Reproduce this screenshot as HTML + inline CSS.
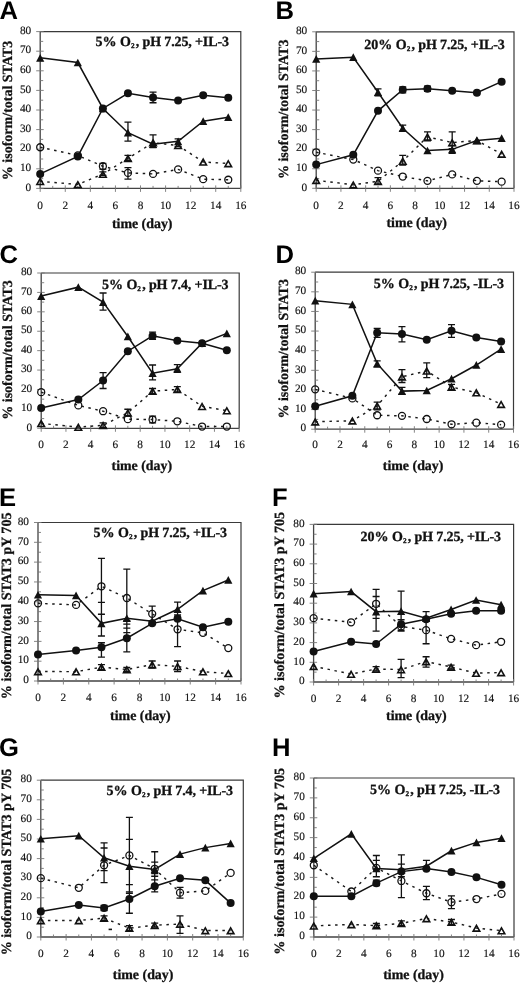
<!DOCTYPE html>
<html><head><meta charset="utf-8"><style>
html,body{margin:0;padding:0;background:#fff;}
body{width:520px;height:983px;overflow:hidden;font-family:"Liberation Serif",serif;}
svg{display:block;will-change:transform;} text{text-rendering:geometricPrecision;}
</style></head><body>
<svg width="520" height="983" viewBox="0 0 520 983">
<rect width="520" height="983" fill="#fff"/>
<g>
<path d="M40.2 31.6H240.8V188.4" fill="none" stroke="#3a3a3a" stroke-width="1.2"/>
<path d="M40.2 31.6V188.4H240.8" fill="none" stroke="#444" stroke-width="1.3"/>
<path d="M36.2 188.4H43.7M36.2 168.8H43.7M36.2 149.2H43.7M36.2 129.6H43.7M36.2 110H43.7M36.2 90.4H43.7M36.2 70.8H43.7M36.2 51.2H43.7M36.2 31.6H43.7M40.2 178.6H43.2M40.2 159H43.2M40.2 139.4H43.2M40.2 119.8H43.2M40.2 100.2H43.2M40.2 80.6H43.2M40.2 61H43.2M40.2 41.4H43.2M40.2 185.4V191.9M65.28 185.4V191.9M90.35 185.4V191.9M115.43 185.4V191.9M140.5 185.4V191.9M165.58 185.4V191.9M190.65 185.4V191.9M215.73 185.4V191.9M240.8 185.4V191.9M52.74 185.9V188.4M77.81 185.9V188.4M102.89 185.9V188.4M127.96 185.9V188.4M153.04 185.9V188.4M178.11 185.9V188.4M203.19 185.9V188.4M228.26 185.9V188.4" stroke="#777" stroke-width="0.9" fill="none"/>
<g font-family="Liberation Serif" font-size="11.3" fill="#111" stroke="#111" stroke-width="0.15"><text x="31.2" y="190.6" text-anchor="end">0</text><text x="31.2" y="171" text-anchor="end">10</text><text x="31.2" y="151.4" text-anchor="end">20</text><text x="31.2" y="131.8" text-anchor="end">30</text><text x="31.2" y="112.2" text-anchor="end">40</text><text x="31.2" y="92.6" text-anchor="end">50</text><text x="31.2" y="73" text-anchor="end">60</text><text x="31.2" y="53.4" text-anchor="end">70</text><text x="31.2" y="33.8" text-anchor="end">80</text><text x="40.2" y="209.3" text-anchor="middle">0</text><text x="65.28" y="209.3" text-anchor="middle">2</text><text x="90.35" y="209.3" text-anchor="middle">4</text><text x="115.43" y="209.3" text-anchor="middle">6</text><text x="140.5" y="209.3" text-anchor="middle">8</text><text x="165.58" y="209.3" text-anchor="middle">10</text><text x="190.65" y="209.3" text-anchor="middle">12</text><text x="215.73" y="209.3" text-anchor="middle">14</text><text x="240.8" y="209.3" text-anchor="middle">16</text></g>
<path d="M127.96 141.15V122.14M124.46 141.15H131.46M124.46 122.14H131.46M153.04 147.62V134.88M149.54 147.62H156.54M149.54 134.88H156.54M153.04 102.74V92.15M149.54 102.74H156.54M149.54 92.15H156.54M127.96 179.18V167.61M124.46 179.18H131.46M124.46 167.61H131.46M102.89 169.18V163.3M99.39 169.18H106.39M99.39 163.3H106.39M102.89 175.45V171.92M99.39 175.45H106.39M99.39 171.92H106.39M127.96 160.75V155.46M124.46 160.75H131.46M124.46 155.46H131.46M178.11 146.64V138.8M174.61 146.64H181.61M174.61 138.8H181.61" stroke="#111" stroke-width="1.3" fill="none"/>
<polyline points="40.2,181.33 77.81,184.47 102.89,174.08 127.96,158.4 153.04,142.72 178.11,145.46 203.19,161.93 228.26,163.5" fill="none" stroke="#1a1a1a" stroke-width="1.45" stroke-dasharray="2.5 4.6"/>
<polyline points="40.2,147.23 77.81,155.46 102.89,166.24 127.96,172.9 153.04,173.88 178.11,169.38 203.19,179.18 228.26,179.76" fill="none" stroke="#1a1a1a" stroke-width="1.45" stroke-dasharray="2.5 4.6"/>
<polyline points="40.2,57.85 77.81,62.56 102.89,108.42 127.96,132.72 153.04,144.29 178.11,141.35 203.19,121.16 228.26,117.24" fill="none" stroke="#111" stroke-width="1.5"/>
<polyline points="40.2,173.88 77.81,156.44 102.89,108.42 127.96,93.33 153.04,97.44 178.11,100.58 203.19,95.29 228.26,97.84" fill="none" stroke="#111" stroke-width="1.5"/>
<path d="M40.2 178.63L43.5 184.43H36.9Z" fill="none" stroke="#111" stroke-width="1.6"/><path d="M77.81 181.77L81.11 187.57H74.51Z" fill="none" stroke="#111" stroke-width="1.6"/><path d="M102.89 171.38L106.19 177.18H99.59Z" fill="none" stroke="#111" stroke-width="1.6"/><path d="M127.96 155.7L131.26 161.5H124.66Z" fill="none" stroke="#111" stroke-width="1.6"/><path d="M153.04 140.02L156.34 145.82H149.74Z" fill="none" stroke="#111" stroke-width="1.6"/><path d="M178.11 142.76L181.41 148.56H174.81Z" fill="none" stroke="#111" stroke-width="1.6"/><path d="M203.19 159.23L206.49 165.03H199.89Z" fill="none" stroke="#111" stroke-width="1.6"/><path d="M228.26 160.8L231.56 166.6H224.96Z" fill="none" stroke="#111" stroke-width="1.6"/><circle cx="40.2" cy="147.23" r="3.5" fill="none" stroke="#111" stroke-width="1.3"/><circle cx="77.81" cy="155.46" r="3.5" fill="none" stroke="#111" stroke-width="1.3"/><circle cx="102.89" cy="166.24" r="3.5" fill="none" stroke="#111" stroke-width="1.3"/><circle cx="127.96" cy="172.9" r="3.5" fill="none" stroke="#111" stroke-width="1.3"/><circle cx="153.04" cy="173.88" r="3.5" fill="none" stroke="#111" stroke-width="1.3"/><circle cx="178.11" cy="169.38" r="3.5" fill="none" stroke="#111" stroke-width="1.3"/><circle cx="203.19" cy="179.18" r="3.5" fill="none" stroke="#111" stroke-width="1.3"/><circle cx="228.26" cy="179.76" r="3.5" fill="none" stroke="#111" stroke-width="1.3"/><path d="M40.2 53.95L44.3 61.65H36.1Z" fill="#111"/><path d="M77.81 58.66L81.91 66.36H73.71Z" fill="#111"/><path d="M102.89 104.52L106.99 112.22H98.79Z" fill="#111"/><path d="M127.96 128.82L132.06 136.52H123.86Z" fill="#111"/><path d="M153.04 140.39L157.14 148.09H148.94Z" fill="#111"/><path d="M178.11 137.45L182.21 145.15H174.01Z" fill="#111"/><path d="M203.19 117.26L207.29 124.96H199.09Z" fill="#111"/><path d="M228.26 113.34L232.36 121.04H224.16Z" fill="#111"/><circle cx="40.2" cy="173.88" r="4.0" fill="#111"/><circle cx="77.81" cy="156.44" r="4.0" fill="#111"/><circle cx="102.89" cy="108.42" r="4.0" fill="#111"/><circle cx="127.96" cy="93.33" r="4.0" fill="#111"/><circle cx="153.04" cy="97.44" r="4.0" fill="#111"/><circle cx="178.11" cy="100.58" r="4.0" fill="#111"/><circle cx="203.19" cy="95.29" r="4.0" fill="#111"/><circle cx="228.26" cy="97.84" r="4.0" fill="#111"/>
<text x="-0.4" y="18.8" font-family="Liberation Sans" font-weight="bold" font-size="25.6" fill="#000">A</text>
<text x="95.5" y="45.6" font-family="Liberation Serif" font-weight="bold" font-size="14" fill="#111" stroke="#111" stroke-width="0.3">5% O<tspan font-size="7.2" dy="2.0">2</tspan><tspan dy="-2.0" dx="1.3" letter-spacing="-0.13">, pH 7.25, +IL-3</tspan></text>
<text transform="translate(11.7 110.4) rotate(-90)" text-anchor="middle" font-family="Liberation Serif" font-weight="bold" font-size="14.0" fill="#111" stroke="#111" stroke-width="0.25">% isoform/total STAT3</text>
<text x="142.2" y="228.3" text-anchor="middle" font-family="Liberation Serif" font-weight="bold" font-size="13.9" fill="#111" stroke="#111" stroke-width="0.3">time (day)</text>
<path d="M316.2 31.8H514V188.3" fill="none" stroke="#3a3a3a" stroke-width="1.2"/>
<path d="M316.2 31.8V188.3H514" fill="none" stroke="#444" stroke-width="1.3"/>
<path d="M312.2 188.3H319.7M312.2 168.74H319.7M312.2 149.18H319.7M312.2 129.61H319.7M312.2 110.05H319.7M312.2 90.49H319.7M312.2 70.93H319.7M312.2 51.36H319.7M312.2 31.8H319.7M316.2 178.52H319.2M316.2 158.96H319.2M316.2 139.39H319.2M316.2 119.83H319.2M316.2 100.27H319.2M316.2 80.71H319.2M316.2 61.14H319.2M316.2 41.58H319.2M316.2 185.3V191.8M340.93 185.3V191.8M365.65 185.3V191.8M390.38 185.3V191.8M415.1 185.3V191.8M439.82 185.3V191.8M464.55 185.3V191.8M489.27 185.3V191.8M514 185.3V191.8M328.56 185.8V188.3M353.29 185.8V188.3M378.01 185.8V188.3M402.74 185.8V188.3M427.46 185.8V188.3M452.19 185.8V188.3M476.91 185.8V188.3M501.64 185.8V188.3" stroke="#777" stroke-width="0.9" fill="none"/>
<g font-family="Liberation Serif" font-size="11.3" fill="#111" stroke="#111" stroke-width="0.15"><text x="307.2" y="190.5" text-anchor="end">0</text><text x="307.2" y="170.94" text-anchor="end">10</text><text x="307.2" y="151.38" text-anchor="end">20</text><text x="307.2" y="131.81" text-anchor="end">30</text><text x="307.2" y="112.25" text-anchor="end">40</text><text x="307.2" y="92.69" text-anchor="end">50</text><text x="307.2" y="73.13" text-anchor="end">60</text><text x="307.2" y="53.56" text-anchor="end">70</text><text x="307.2" y="34" text-anchor="end">80</text><text x="316.2" y="209.4" text-anchor="middle">0</text><text x="340.93" y="209.4" text-anchor="middle">2</text><text x="365.65" y="209.4" text-anchor="middle">4</text><text x="390.38" y="209.4" text-anchor="middle">6</text><text x="415.1" y="209.4" text-anchor="middle">8</text><text x="439.82" y="209.4" text-anchor="middle">10</text><text x="464.55" y="209.4" text-anchor="middle">12</text><text x="489.27" y="209.4" text-anchor="middle">14</text><text x="514" y="209.4" text-anchor="middle">16</text></g>
<path d="M378.01 95.76V88.91M374.51 95.76H381.51M374.51 88.91H381.51M402.74 130.97V125.1M399.24 130.97H406.24M399.24 125.1H406.24M452.19 153.47V145.64M448.69 153.47H455.69M448.69 145.64H455.69M402.74 92.82V86.95M399.24 92.82H406.24M399.24 86.95H406.24M427.46 91.26V86.17M423.96 91.26H430.96M423.96 86.17H430.96M378.01 184.18V177.53M374.51 184.18H381.51M374.51 177.53H381.51M402.74 165.2V155.42M399.24 165.2H406.24M399.24 155.42H406.24M427.46 140.75V131.95M423.96 140.75H430.96M423.96 131.95H430.96M452.19 148.58V131.95M448.69 148.58H455.69M448.69 131.95H455.69" stroke="#111" stroke-width="1.3" fill="none"/>
<polyline points="316.2,180.27 353.29,184.77 378.01,181.24 402.74,161.1 427.46,136.84 452.19,142.51 476.91,140.55 501.64,154.05" fill="none" stroke="#1a1a1a" stroke-width="1.45" stroke-dasharray="2.5 4.6"/>
<polyline points="316.2,152.29 353.29,159.53 378.01,170.68 402.74,176.55 427.46,180.85 452.19,174.4 476.91,180.85 501.64,181.64" fill="none" stroke="#1a1a1a" stroke-width="1.45" stroke-dasharray="2.5 4.6"/>
<polyline points="316.2,58.98 353.29,57.22 378.01,92.24 402.74,128.23 427.46,150.53 452.19,149.36 476.91,140.55 501.64,138.21" fill="none" stroke="#111" stroke-width="1.5"/>
<polyline points="316.2,164.62 353.29,154.84 378.01,110.82 402.74,89.69 427.46,88.71 452.19,90.67 476.91,92.63 501.64,81.67" fill="none" stroke="#111" stroke-width="1.5"/>
<path d="M316.2 177.57L319.5 183.37H312.9Z" fill="none" stroke="#111" stroke-width="1.6"/><path d="M353.29 182.07L356.59 187.87H349.99Z" fill="none" stroke="#111" stroke-width="1.6"/><path d="M378.01 178.54L381.31 184.34H374.71Z" fill="none" stroke="#111" stroke-width="1.6"/><path d="M402.74 158.4L406.04 164.2H399.44Z" fill="none" stroke="#111" stroke-width="1.6"/><path d="M427.46 134.14L430.76 139.94H424.16Z" fill="none" stroke="#111" stroke-width="1.6"/><path d="M452.19 139.81L455.49 145.61H448.89Z" fill="none" stroke="#111" stroke-width="1.6"/><path d="M476.91 137.85L480.21 143.65H473.61Z" fill="none" stroke="#111" stroke-width="1.6"/><path d="M501.64 151.35L504.94 157.15H498.34Z" fill="none" stroke="#111" stroke-width="1.6"/><circle cx="316.2" cy="152.29" r="3.5" fill="none" stroke="#111" stroke-width="1.3"/><circle cx="353.29" cy="159.53" r="3.5" fill="none" stroke="#111" stroke-width="1.3"/><circle cx="378.01" cy="170.68" r="3.5" fill="none" stroke="#111" stroke-width="1.3"/><circle cx="402.74" cy="176.55" r="3.5" fill="none" stroke="#111" stroke-width="1.3"/><circle cx="427.46" cy="180.85" r="3.5" fill="none" stroke="#111" stroke-width="1.3"/><circle cx="452.19" cy="174.4" r="3.5" fill="none" stroke="#111" stroke-width="1.3"/><circle cx="476.91" cy="180.85" r="3.5" fill="none" stroke="#111" stroke-width="1.3"/><circle cx="501.64" cy="181.64" r="3.5" fill="none" stroke="#111" stroke-width="1.3"/><path d="M316.2 55.08L320.3 62.78H312.1Z" fill="#111"/><path d="M353.29 53.32L357.39 61.02H349.19Z" fill="#111"/><path d="M378.01 88.34L382.11 96.04H373.91Z" fill="#111"/><path d="M402.74 124.33L406.84 132.03H398.64Z" fill="#111"/><path d="M427.46 146.63L431.56 154.33H423.36Z" fill="#111"/><path d="M452.19 145.46L456.29 153.16H448.09Z" fill="#111"/><path d="M476.91 136.65L481.01 144.35H472.81Z" fill="#111"/><path d="M501.64 134.31L505.74 142.01H497.54Z" fill="#111"/><circle cx="316.2" cy="164.62" r="4.0" fill="#111"/><circle cx="353.29" cy="154.84" r="4.0" fill="#111"/><circle cx="378.01" cy="110.82" r="4.0" fill="#111"/><circle cx="402.74" cy="89.69" r="4.0" fill="#111"/><circle cx="427.46" cy="88.71" r="4.0" fill="#111"/><circle cx="452.19" cy="90.67" r="4.0" fill="#111"/><circle cx="476.91" cy="92.63" r="4.0" fill="#111"/><circle cx="501.64" cy="81.67" r="4.0" fill="#111"/>
<text x="275.6" y="18.8" font-family="Liberation Sans" font-weight="bold" font-size="25.6" fill="#000">B</text>
<text x="364.3" y="48.5" font-family="Liberation Serif" font-weight="bold" font-size="14" fill="#111" stroke="#111" stroke-width="0.3">20% O<tspan font-size="7.2" dy="2.0">2</tspan><tspan dy="-2.0" dx="1.3" letter-spacing="-0.13">, pH 7.25, +IL-3</tspan></text>
<text transform="translate(287.5 109.3) rotate(-90)" text-anchor="middle" font-family="Liberation Serif" font-weight="bold" font-size="14.0" fill="#111" stroke="#111" stroke-width="0.25">% isoform/total STAT3</text>
<text x="416.7" y="227.3" text-anchor="middle" font-family="Liberation Serif" font-weight="bold" font-size="13.9" fill="#111" stroke="#111" stroke-width="0.3">time (day)</text>
<path d="M41.2 273H239.2V428.3" fill="none" stroke="#3a3a3a" stroke-width="1.2"/>
<path d="M41.2 273V428.3H239.2" fill="none" stroke="#444" stroke-width="1.3"/>
<path d="M37.2 428.3H44.7M37.2 408.89H44.7M37.2 389.48H44.7M37.2 370.06H44.7M37.2 350.65H44.7M37.2 331.24H44.7M37.2 311.82H44.7M37.2 292.41H44.7M37.2 273H44.7M41.2 418.59H44.2M41.2 399.18H44.2M41.2 379.77H44.2M41.2 360.36H44.2M41.2 340.94H44.2M41.2 321.53H44.2M41.2 302.12H44.2M41.2 282.71H44.2M41.2 425.3V431.8M65.95 425.3V431.8M90.7 425.3V431.8M115.45 425.3V431.8M140.2 425.3V431.8M164.95 425.3V431.8M189.7 425.3V431.8M214.45 425.3V431.8M239.2 425.3V431.8M53.58 425.8V428.3M78.33 425.8V428.3M103.08 425.8V428.3M127.83 425.8V428.3M152.57 425.8V428.3M177.32 425.8V428.3M202.07 425.8V428.3M226.82 425.8V428.3" stroke="#777" stroke-width="0.9" fill="none"/>
<g font-family="Liberation Serif" font-size="11.3" fill="#111" stroke="#111" stroke-width="0.15"><text x="32.2" y="430.5" text-anchor="end">0</text><text x="32.2" y="411.09" text-anchor="end">10</text><text x="32.2" y="391.68" text-anchor="end">20</text><text x="32.2" y="372.26" text-anchor="end">30</text><text x="32.2" y="352.85" text-anchor="end">40</text><text x="32.2" y="333.44" text-anchor="end">50</text><text x="32.2" y="314.02" text-anchor="end">60</text><text x="32.2" y="294.61" text-anchor="end">70</text><text x="32.2" y="275.2" text-anchor="end">80</text><text x="41.2" y="448.3" text-anchor="middle">0</text><text x="65.95" y="448.3" text-anchor="middle">2</text><text x="90.7" y="448.3" text-anchor="middle">4</text><text x="115.45" y="448.3" text-anchor="middle">6</text><text x="140.2" y="448.3" text-anchor="middle">8</text><text x="164.95" y="448.3" text-anchor="middle">10</text><text x="189.7" y="448.3" text-anchor="middle">12</text><text x="214.45" y="448.3" text-anchor="middle">14</text><text x="239.2" y="448.3" text-anchor="middle">16</text></g>
<path d="M103.08 310.06V292.98M99.58 310.06H106.58M99.58 292.98H106.58M152.57 379.95V365M149.07 379.95H156.07M149.07 365H156.07M177.32 372.37V364.61M173.82 372.37H180.82M173.82 364.61H180.82M103.08 388.49V372.57M99.58 388.49H106.58M99.58 372.57H106.58M152.57 339.37V332.19M149.07 339.37H156.07M149.07 332.19H156.07M103.08 427.7V422.85M99.58 427.7H106.58M99.58 422.85H106.58M127.83 416.05V409.26M124.33 416.05H131.32M124.33 409.26H131.32M152.57 422.85V416.05M149.07 422.85H156.07M149.07 416.05H156.07M152.57 393.73V388.49M149.07 393.73H156.07M149.07 388.49H156.07M177.32 391.79V386.55M173.82 391.79H180.82M173.82 386.55H180.82" stroke="#111" stroke-width="1.3" fill="none"/>
<polyline points="41.2,423.43 78.33,427.12 103.08,425.37 127.83,412.75 152.57,391.2 177.32,389.46 202.07,406.35 226.82,410.62" fill="none" stroke="#1a1a1a" stroke-width="1.45" stroke-dasharray="2.5 4.6"/>
<polyline points="41.2,392.18 78.33,405.38 103.08,411.2 127.83,419.16 152.57,419.55 177.32,421.29 202.07,426.54 226.82,426.54" fill="none" stroke="#1a1a1a" stroke-width="1.45" stroke-dasharray="2.5 4.6"/>
<polyline points="41.2,296.08 78.33,287.15 103.08,302.1 127.83,336.46 152.57,373.15 177.32,368.69 202.07,343.26 226.82,333.36" fill="none" stroke="#111" stroke-width="1.5"/>
<polyline points="41.2,407.9 78.33,399.55 103.08,380.53 127.83,351.21 152.57,335.88 177.32,340.73 202.07,343.26 226.82,350.24" fill="none" stroke="#111" stroke-width="1.5"/>
<path d="M41.2 420.73L44.5 426.53H37.9Z" fill="none" stroke="#111" stroke-width="1.6"/><path d="M78.33 424.42L81.62 430.22H75.03Z" fill="none" stroke="#111" stroke-width="1.6"/><path d="M103.08 422.67L106.38 428.47H99.78Z" fill="none" stroke="#111" stroke-width="1.6"/><path d="M127.83 410.05L131.12 415.85H124.53Z" fill="none" stroke="#111" stroke-width="1.6"/><path d="M152.57 388.5L155.88 394.3H149.27Z" fill="none" stroke="#111" stroke-width="1.6"/><path d="M177.32 386.76L180.62 392.56H174.02Z" fill="none" stroke="#111" stroke-width="1.6"/><path d="M202.07 403.65L205.38 409.45H198.77Z" fill="none" stroke="#111" stroke-width="1.6"/><path d="M226.82 407.92L230.12 413.72H223.52Z" fill="none" stroke="#111" stroke-width="1.6"/><circle cx="41.2" cy="392.18" r="3.5" fill="none" stroke="#111" stroke-width="1.3"/><circle cx="78.33" cy="405.38" r="3.5" fill="none" stroke="#111" stroke-width="1.3"/><circle cx="103.08" cy="411.2" r="3.5" fill="none" stroke="#111" stroke-width="1.3"/><circle cx="127.83" cy="419.16" r="3.5" fill="none" stroke="#111" stroke-width="1.3"/><circle cx="152.57" cy="419.55" r="3.5" fill="none" stroke="#111" stroke-width="1.3"/><circle cx="177.32" cy="421.29" r="3.5" fill="none" stroke="#111" stroke-width="1.3"/><circle cx="202.07" cy="426.54" r="3.5" fill="none" stroke="#111" stroke-width="1.3"/><circle cx="226.82" cy="426.54" r="3.5" fill="none" stroke="#111" stroke-width="1.3"/><path d="M41.2 292.18L45.3 299.88H37.1Z" fill="#111"/><path d="M78.33 283.25L82.42 290.95H74.23Z" fill="#111"/><path d="M103.08 298.2L107.17 305.9H98.98Z" fill="#111"/><path d="M127.83 332.56L131.93 340.26H123.73Z" fill="#111"/><path d="M152.57 369.25L156.67 376.95H148.47Z" fill="#111"/><path d="M177.32 364.79L181.42 372.49H173.22Z" fill="#111"/><path d="M202.07 339.36L206.17 347.06H197.97Z" fill="#111"/><path d="M226.82 329.46L230.92 337.16H222.72Z" fill="#111"/><circle cx="41.2" cy="407.9" r="4.0" fill="#111"/><circle cx="78.33" cy="399.55" r="4.0" fill="#111"/><circle cx="103.08" cy="380.53" r="4.0" fill="#111"/><circle cx="127.83" cy="351.21" r="4.0" fill="#111"/><circle cx="152.57" cy="335.88" r="4.0" fill="#111"/><circle cx="177.32" cy="340.73" r="4.0" fill="#111"/><circle cx="202.07" cy="343.26" r="4.0" fill="#111"/><circle cx="226.82" cy="350.24" r="4.0" fill="#111"/>
<text x="-0.6" y="263" font-family="Liberation Sans" font-weight="bold" font-size="25.6" fill="#000">C</text>
<text x="101.9" y="289" font-family="Liberation Serif" font-weight="bold" font-size="14" fill="#111" stroke="#111" stroke-width="0.3">5% O<tspan font-size="7.2" dy="2.0">2</tspan><tspan dy="-2.0" dx="1.3" letter-spacing="-0.13">, pH 7.4, +IL-3</tspan></text>
<text transform="translate(12 350) rotate(-90)" text-anchor="middle" font-family="Liberation Serif" font-weight="bold" font-size="14.0" fill="#111" stroke="#111" stroke-width="0.25">% isoform/total STAT3</text>
<text x="141.8" y="470.3" text-anchor="middle" font-family="Liberation Serif" font-weight="bold" font-size="13.9" fill="#111" stroke="#111" stroke-width="0.3">time (day)</text>
<path d="M315.2 272.2H513.5V429.2" fill="none" stroke="#3a3a3a" stroke-width="1.2"/>
<path d="M315.2 272.2V429.2H513.5" fill="none" stroke="#444" stroke-width="1.3"/>
<path d="M311.2 429.2H318.7M311.2 409.57H318.7M311.2 389.95H318.7M311.2 370.32H318.7M311.2 350.7H318.7M311.2 331.07H318.7M311.2 311.45H318.7M311.2 291.82H318.7M311.2 272.2H318.7M315.2 419.39H318.2M315.2 399.76H318.2M315.2 380.14H318.2M315.2 360.51H318.2M315.2 340.89H318.2M315.2 321.26H318.2M315.2 301.64H318.2M315.2 282.01H318.2M315.2 426.2V432.7M339.99 426.2V432.7M364.77 426.2V432.7M389.56 426.2V432.7M414.35 426.2V432.7M439.14 426.2V432.7M463.93 426.2V432.7M488.71 426.2V432.7M513.5 426.2V432.7M327.59 426.7V429.2M352.38 426.7V429.2M377.17 426.7V429.2M401.96 426.7V429.2M426.74 426.7V429.2M451.53 426.7V429.2M476.32 426.7V429.2M501.11 426.7V429.2" stroke="#777" stroke-width="0.9" fill="none"/>
<g font-family="Liberation Serif" font-size="11.3" fill="#111" stroke="#111" stroke-width="0.15"><text x="306.2" y="431.4" text-anchor="end">0</text><text x="306.2" y="411.77" text-anchor="end">10</text><text x="306.2" y="392.15" text-anchor="end">20</text><text x="306.2" y="372.52" text-anchor="end">30</text><text x="306.2" y="352.9" text-anchor="end">40</text><text x="306.2" y="333.27" text-anchor="end">50</text><text x="306.2" y="313.65" text-anchor="end">60</text><text x="306.2" y="294.02" text-anchor="end">70</text><text x="306.2" y="274.4" text-anchor="end">80</text><text x="315.2" y="448.3" text-anchor="middle">0</text><text x="339.99" y="448.3" text-anchor="middle">2</text><text x="364.77" y="448.3" text-anchor="middle">4</text><text x="389.56" y="448.3" text-anchor="middle">6</text><text x="414.35" y="448.3" text-anchor="middle">8</text><text x="439.14" y="448.3" text-anchor="middle">10</text><text x="463.93" y="448.3" text-anchor="middle">12</text><text x="488.71" y="448.3" text-anchor="middle">14</text><text x="513.5" y="448.3" text-anchor="middle">16</text></g>
<path d="M377.17 366.78V360.89M373.67 366.78H380.67M373.67 360.89H380.67M401.96 394.26V387.39M398.46 394.26H405.46M398.46 387.39H405.46M377.17 337.34V328.51M373.67 337.34H380.67M373.67 328.51H380.67M401.96 341.86V326.55M398.46 341.86H405.46M398.46 326.55H405.46M451.53 337.34V324.59M448.03 337.34H455.03M448.03 324.59H455.03M377.17 409.96V402.11M373.67 409.96H380.67M373.67 402.11H380.67M401.96 382.48V369.72M398.46 382.48H405.46M398.46 369.72H405.46M426.74 377.57V362.86M423.24 377.57H430.24M423.24 362.86H430.24M451.53 389.35V384.44M448.03 389.35H455.03M448.03 384.44H455.03" stroke="#111" stroke-width="1.3" fill="none"/>
<polyline points="315.2,421.73 352.38,420.75 377.17,405.83 401.96,376.79 426.74,370.9 451.53,386.99 476.32,392.69 501.11,404.26" fill="none" stroke="#1a1a1a" stroke-width="1.45" stroke-dasharray="2.5 4.6"/>
<polyline points="315.2,389.35 352.38,398.38 377.17,415.25 401.96,415.84 426.74,418.98 451.53,424.28 476.32,422.71 501.11,424.67" fill="none" stroke="#1a1a1a" stroke-width="1.45" stroke-dasharray="2.5 4.6"/>
<polyline points="315.2,300.64 352.38,304.37 377.17,363.64 401.96,391.12 426.74,390.53 451.53,378.75 476.32,365.01 501.11,349.12" fill="none" stroke="#111" stroke-width="1.5"/>
<polyline points="315.2,406.23 352.38,395.83 377.17,332.83 401.96,334.01 426.74,339.7 451.53,330.87 476.32,337.54 501.11,341.46" fill="none" stroke="#111" stroke-width="1.5"/>
<path d="M315.2 419.03L318.5 424.83H311.9Z" fill="none" stroke="#111" stroke-width="1.6"/><path d="M352.38 418.05L355.68 423.85H349.08Z" fill="none" stroke="#111" stroke-width="1.6"/><path d="M377.17 403.13L380.47 408.94H373.87Z" fill="none" stroke="#111" stroke-width="1.6"/><path d="M401.96 374.09L405.26 379.89H398.66Z" fill="none" stroke="#111" stroke-width="1.6"/><path d="M426.74 368.2L430.04 374H423.44Z" fill="none" stroke="#111" stroke-width="1.6"/><path d="M451.53 384.29L454.83 390.09H448.23Z" fill="none" stroke="#111" stroke-width="1.6"/><path d="M476.32 389.99L479.62 395.79H473.02Z" fill="none" stroke="#111" stroke-width="1.6"/><path d="M501.11 401.56L504.41 407.37H497.81Z" fill="none" stroke="#111" stroke-width="1.6"/><circle cx="315.2" cy="389.35" r="3.5" fill="none" stroke="#111" stroke-width="1.3"/><circle cx="352.38" cy="398.38" r="3.5" fill="none" stroke="#111" stroke-width="1.3"/><circle cx="377.17" cy="415.25" r="3.5" fill="none" stroke="#111" stroke-width="1.3"/><circle cx="401.96" cy="415.84" r="3.5" fill="none" stroke="#111" stroke-width="1.3"/><circle cx="426.74" cy="418.98" r="3.5" fill="none" stroke="#111" stroke-width="1.3"/><circle cx="451.53" cy="424.28" r="3.5" fill="none" stroke="#111" stroke-width="1.3"/><circle cx="476.32" cy="422.71" r="3.5" fill="none" stroke="#111" stroke-width="1.3"/><circle cx="501.11" cy="424.67" r="3.5" fill="none" stroke="#111" stroke-width="1.3"/><path d="M315.2 296.75L319.3 304.44H311.1Z" fill="#111"/><path d="M352.38 300.47L356.48 308.17H348.28Z" fill="#111"/><path d="M377.17 359.74L381.27 367.44H373.07Z" fill="#111"/><path d="M401.96 387.22L406.06 394.92H397.86Z" fill="#111"/><path d="M426.74 386.63L430.84 394.33H422.64Z" fill="#111"/><path d="M451.53 374.85L455.63 382.55H447.43Z" fill="#111"/><path d="M476.32 361.12L480.42 368.81H472.22Z" fill="#111"/><path d="M501.11 345.22L505.21 352.92H497.01Z" fill="#111"/><circle cx="315.2" cy="406.23" r="4.0" fill="#111"/><circle cx="352.38" cy="395.83" r="4.0" fill="#111"/><circle cx="377.17" cy="332.83" r="4.0" fill="#111"/><circle cx="401.96" cy="334.01" r="4.0" fill="#111"/><circle cx="426.74" cy="339.7" r="4.0" fill="#111"/><circle cx="451.53" cy="330.87" r="4.0" fill="#111"/><circle cx="476.32" cy="337.54" r="4.0" fill="#111"/><circle cx="501.11" cy="341.46" r="4.0" fill="#111"/>
<text x="275.6" y="262.9" font-family="Liberation Sans" font-weight="bold" font-size="25.6" fill="#000">D</text>
<text x="373.8" y="288.3" font-family="Liberation Serif" font-weight="bold" font-size="14" fill="#111" stroke="#111" stroke-width="0.3">5% O<tspan font-size="7.2" dy="2.0">2</tspan><tspan dy="-2.0" dx="1.3" letter-spacing="-0.13">, pH 7.25, -IL-3</tspan></text>
<text transform="translate(287.7 348.8) rotate(-90)" text-anchor="middle" font-family="Liberation Serif" font-weight="bold" font-size="14.0" fill="#111" stroke="#111" stroke-width="0.25">% isoform/total STAT3</text>
<text x="413.1" y="470.3" text-anchor="middle" font-family="Liberation Serif" font-weight="bold" font-size="13.9" fill="#111" stroke="#111" stroke-width="0.3">time (day)</text>
<path d="M38 522.5H241V681" fill="none" stroke="#3a3a3a" stroke-width="1.2"/>
<path d="M38 522.5V681H241" fill="none" stroke="#444" stroke-width="1.3"/>
<path d="M34 681H41.5M34 661.19H41.5M34 641.38H41.5M34 621.56H41.5M34 601.75H41.5M34 581.94H41.5M34 562.12H41.5M34 542.31H41.5M34 522.5H41.5M38 671.09H41M38 651.28H41M38 631.47H41M38 611.66H41M38 591.84H41M38 572.03H41M38 552.22H41M38 532.41H41M38 678V684.5M63.38 678V684.5M88.75 678V684.5M114.12 678V684.5M139.5 678V684.5M164.88 678V684.5M190.25 678V684.5M215.62 678V684.5M241 678V684.5M50.69 678.5V681M76.06 678.5V681M101.44 678.5V681M126.81 678.5V681M152.19 678.5V681M177.56 678.5V681M202.94 678.5V681M228.31 678.5V681" stroke="#777" stroke-width="0.9" fill="none"/>
<g font-family="Liberation Serif" font-size="11.3" fill="#111" stroke="#111" stroke-width="0.15"><text x="29" y="683.2" text-anchor="end">0</text><text x="29" y="663.39" text-anchor="end">10</text><text x="29" y="643.58" text-anchor="end">20</text><text x="29" y="623.76" text-anchor="end">30</text><text x="29" y="603.95" text-anchor="end">40</text><text x="29" y="584.14" text-anchor="end">50</text><text x="29" y="564.33" text-anchor="end">60</text><text x="29" y="544.51" text-anchor="end">70</text><text x="29" y="524.7" text-anchor="end">80</text><text x="38" y="700.8" text-anchor="middle">0</text><text x="63.38" y="700.8" text-anchor="middle">2</text><text x="88.75" y="700.8" text-anchor="middle">4</text><text x="114.12" y="700.8" text-anchor="middle">6</text><text x="139.5" y="700.8" text-anchor="middle">8</text><text x="164.88" y="700.8" text-anchor="middle">10</text><text x="190.25" y="700.8" text-anchor="middle">12</text><text x="215.62" y="700.8" text-anchor="middle">14</text><text x="241" y="700.8" text-anchor="middle">16</text></g>
<path d="M101.44 614.23V558.36M97.94 614.23H104.94M97.94 558.36H104.94M101.44 636.02V602.34M97.94 636.02H104.94M97.94 602.34H104.94M101.44 657.22V642.76M97.94 657.22H104.94M97.94 642.76H104.94M126.81 628.1V569.05M123.31 628.1H130.31M123.31 569.05H130.31M126.81 632.65V620.76M123.31 632.65H130.31M123.31 620.76H130.31M126.81 651.87V624.13M123.31 651.87H130.31M123.31 624.13H130.31M152.19 621.95V606.1M148.69 621.95H155.69M148.69 606.1H155.69M177.56 646.72V615.02M174.06 646.72H181.06M174.06 615.02H181.06M177.56 617V602.14M174.06 617H181.06M174.06 602.14H181.06M101.44 669.5V664.55M97.94 669.5H104.94M97.94 664.55H104.94M152.19 668.12V660.98M148.69 668.12H155.69M148.69 660.98H155.69M177.56 671.48V660.98M174.06 671.48H181.06M174.06 660.98H181.06M126.81 671.48V667.52M123.31 671.48H130.31M123.31 667.52H130.31" stroke="#111" stroke-width="1.3" fill="none"/>
<polyline points="38,671.48 76.06,671.68 101.44,667.13 126.81,669.5 152.19,664.55 177.56,666.33 202.94,671.68 228.31,673.47" fill="none" stroke="#1a1a1a" stroke-width="1.45" stroke-dasharray="2.5 4.6"/>
<polyline points="38,603.33 76.06,604.91 101.44,586.29 126.81,597.98 152.19,613.83 177.56,629.28 202.94,632.85 228.31,648.11" fill="none" stroke="#1a1a1a" stroke-width="1.45" stroke-dasharray="2.5 4.6"/>
<polyline points="38,594.81 76.06,595.4 101.44,623.34 126.81,618.19 152.19,621.16 177.56,609.27 202.94,590.65 228.31,579.95" fill="none" stroke="#111" stroke-width="1.5"/>
<polyline points="38,654.45 76.06,650.48 101.44,647.31 126.81,638.2 152.19,623.34 177.56,618.78 202.94,627.3 228.31,621.75" fill="none" stroke="#111" stroke-width="1.5"/>
<path d="M38 668.78L41.3 674.58H34.7Z" fill="none" stroke="#111" stroke-width="1.6"/><path d="M76.06 668.98L79.36 674.78H72.76Z" fill="none" stroke="#111" stroke-width="1.6"/><path d="M101.44 664.43L104.74 670.23H98.14Z" fill="none" stroke="#111" stroke-width="1.6"/><path d="M126.81 666.8L130.11 672.6H123.51Z" fill="none" stroke="#111" stroke-width="1.6"/><path d="M152.19 661.85L155.49 667.65H148.89Z" fill="none" stroke="#111" stroke-width="1.6"/><path d="M177.56 663.63L180.86 669.43H174.26Z" fill="none" stroke="#111" stroke-width="1.6"/><path d="M202.94 668.98L206.24 674.78H199.64Z" fill="none" stroke="#111" stroke-width="1.6"/><path d="M228.31 670.77L231.61 676.57H225.01Z" fill="none" stroke="#111" stroke-width="1.6"/><circle cx="38" cy="603.33" r="3.5" fill="none" stroke="#111" stroke-width="1.3"/><circle cx="76.06" cy="604.91" r="3.5" fill="none" stroke="#111" stroke-width="1.3"/><circle cx="101.44" cy="586.29" r="3.5" fill="none" stroke="#111" stroke-width="1.3"/><circle cx="126.81" cy="597.98" r="3.5" fill="none" stroke="#111" stroke-width="1.3"/><circle cx="152.19" cy="613.83" r="3.5" fill="none" stroke="#111" stroke-width="1.3"/><circle cx="177.56" cy="629.28" r="3.5" fill="none" stroke="#111" stroke-width="1.3"/><circle cx="202.94" cy="632.85" r="3.5" fill="none" stroke="#111" stroke-width="1.3"/><circle cx="228.31" cy="648.11" r="3.5" fill="none" stroke="#111" stroke-width="1.3"/><path d="M38 590.91L42.1 598.61H33.9Z" fill="#111"/><path d="M76.06 591.5L80.16 599.2H71.96Z" fill="#111"/><path d="M101.44 619.44L105.54 627.14H97.34Z" fill="#111"/><path d="M126.81 614.29L130.91 621.99H122.71Z" fill="#111"/><path d="M152.19 617.26L156.29 624.96H148.09Z" fill="#111"/><path d="M177.56 605.37L181.66 613.07H173.46Z" fill="#111"/><path d="M202.94 586.75L207.04 594.45H198.84Z" fill="#111"/><path d="M228.31 576.05L232.41 583.75H224.21Z" fill="#111"/><circle cx="38" cy="654.45" r="4.0" fill="#111"/><circle cx="76.06" cy="650.48" r="4.0" fill="#111"/><circle cx="101.44" cy="647.31" r="4.0" fill="#111"/><circle cx="126.81" cy="638.2" r="4.0" fill="#111"/><circle cx="152.19" cy="623.34" r="4.0" fill="#111"/><circle cx="177.56" cy="618.78" r="4.0" fill="#111"/><circle cx="202.94" cy="627.3" r="4.0" fill="#111"/><circle cx="228.31" cy="621.75" r="4.0" fill="#111"/>
<text x="-0.9" y="505.8" font-family="Liberation Sans" font-weight="bold" font-size="25.6" fill="#000">E</text>
<text x="93.5" y="537.4" font-family="Liberation Serif" font-weight="bold" font-size="14" fill="#111" stroke="#111" stroke-width="0.3">5% O<tspan font-size="7.2" dy="2.0">2</tspan><tspan dy="-2.0" dx="1.3" letter-spacing="-0.13">, pH 7.25, +IL-3</tspan></text>
<text transform="translate(10.5 605.8) rotate(-90)" text-anchor="middle" font-family="Liberation Serif" font-weight="bold" font-size="14.15" fill="#111" stroke="#111" stroke-width="0.25">% isoform/total STAT3 pY 705</text>
<text x="140.4" y="720.3" text-anchor="middle" font-family="Liberation Serif" font-weight="bold" font-size="13.9" fill="#111" stroke="#111" stroke-width="0.3">time (day)</text>
<path d="M313.6 524.4H513.6V682" fill="none" stroke="#3a3a3a" stroke-width="1.2"/>
<path d="M313.6 524.4V682H513.6" fill="none" stroke="#444" stroke-width="1.3"/>
<path d="M309.6 682H317.1M309.6 662.3H317.1M309.6 642.6H317.1M309.6 622.9H317.1M309.6 603.2H317.1M309.6 583.5H317.1M309.6 563.8H317.1M309.6 544.1H317.1M309.6 524.4H317.1M313.6 672.15H316.6M313.6 652.45H316.6M313.6 632.75H316.6M313.6 613.05H316.6M313.6 593.35H316.6M313.6 573.65H316.6M313.6 553.95H316.6M313.6 534.25H316.6M313.6 679V685.5M338.6 679V685.5M363.6 679V685.5M388.6 679V685.5M413.6 679V685.5M438.6 679V685.5M463.6 679V685.5M488.6 679V685.5M513.6 679V685.5M326.1 679.5V682M351.1 679.5V682M376.1 679.5V682M401.1 679.5V682M426.1 679.5V682M451.1 679.5V682M476.1 679.5V682M501.1 679.5V682" stroke="#777" stroke-width="0.9" fill="none"/>
<g font-family="Liberation Serif" font-size="11.3" fill="#111" stroke="#111" stroke-width="0.15"><text x="304.6" y="684.2" text-anchor="end">0</text><text x="304.6" y="664.5" text-anchor="end">10</text><text x="304.6" y="644.8" text-anchor="end">20</text><text x="304.6" y="625.1" text-anchor="end">30</text><text x="304.6" y="605.4" text-anchor="end">40</text><text x="304.6" y="585.7" text-anchor="end">50</text><text x="304.6" y="566" text-anchor="end">60</text><text x="304.6" y="546.3" text-anchor="end">70</text><text x="304.6" y="526.6" text-anchor="end">80</text><text x="313.6" y="702.3" text-anchor="middle">0</text><text x="338.6" y="702.3" text-anchor="middle">2</text><text x="363.6" y="702.3" text-anchor="middle">4</text><text x="388.6" y="702.3" text-anchor="middle">6</text><text x="413.6" y="702.3" text-anchor="middle">8</text><text x="438.6" y="702.3" text-anchor="middle">10</text><text x="463.6" y="702.3" text-anchor="middle">12</text><text x="488.6" y="702.3" text-anchor="middle">14</text><text x="513.6" y="702.3" text-anchor="middle">16</text></g>
<path d="M376.1 618.36V589.4M372.6 618.36H379.6M372.6 589.4H379.6M376.1 631.16V596.49M372.6 631.16H379.6M372.6 596.49H379.6M401.1 631.16V591.17M397.6 631.16H404.6M397.6 591.17H404.6M401.1 630.18V619.74M397.6 630.18H404.6M397.6 619.74H404.6M426.1 643.77V611.66M422.6 643.77H429.6M422.6 611.66H429.6M376.1 670.96V666.62M372.6 670.96H379.6M372.6 666.62H379.6M401.1 677.66V659.34M397.6 677.66H404.6M397.6 659.34H404.6M426.1 667.22V656.77M422.6 667.22H429.6M422.6 656.77H429.6M451.1 668.99V665.05M447.6 668.99H454.6M447.6 665.05H454.6" stroke="#111" stroke-width="1.3" fill="none"/>
<polyline points="313.6,666.23 351.1,674.11 376.1,668.99 401.1,669.58 426.1,661.5 451.1,667.02 476.1,673.13 501.1,672.53" fill="none" stroke="#1a1a1a" stroke-width="1.45" stroke-dasharray="2.5 4.6"/>
<polyline points="313.6,618.16 351.1,622.3 376.1,603.78 401.1,626.44 426.1,630.18 451.1,638.85 476.1,645.15 501.1,641.8" fill="none" stroke="#1a1a1a" stroke-width="1.45" stroke-dasharray="2.5 4.6"/>
<polyline points="313.6,593.74 351.1,591.57 376.1,611.66 401.1,611.27 426.1,618.16 451.1,609.5 476.1,600.04 501.1,604.77" fill="none" stroke="#111" stroke-width="1.5"/>
<polyline points="313.6,651.46 351.1,641.8 376.1,643.97 401.1,624.27 426.1,619.15 451.1,613.83 476.1,610.68 501.1,610.68" fill="none" stroke="#111" stroke-width="1.5"/>
<path d="M313.6 663.53L316.9 669.33H310.3Z" fill="none" stroke="#111" stroke-width="1.6"/><path d="M351.1 671.41L354.4 677.21H347.8Z" fill="none" stroke="#111" stroke-width="1.6"/><path d="M376.1 666.29L379.4 672.09H372.8Z" fill="none" stroke="#111" stroke-width="1.6"/><path d="M401.1 666.88L404.4 672.68H397.8Z" fill="none" stroke="#111" stroke-width="1.6"/><path d="M426.1 658.8L429.4 664.6H422.8Z" fill="none" stroke="#111" stroke-width="1.6"/><path d="M451.1 664.32L454.4 670.12H447.8Z" fill="none" stroke="#111" stroke-width="1.6"/><path d="M476.1 670.43L479.4 676.23H472.8Z" fill="none" stroke="#111" stroke-width="1.6"/><path d="M501.1 669.83L504.4 675.63H497.8Z" fill="none" stroke="#111" stroke-width="1.6"/><circle cx="313.6" cy="618.16" r="3.5" fill="none" stroke="#111" stroke-width="1.3"/><circle cx="351.1" cy="622.3" r="3.5" fill="none" stroke="#111" stroke-width="1.3"/><circle cx="376.1" cy="603.78" r="3.5" fill="none" stroke="#111" stroke-width="1.3"/><circle cx="401.1" cy="626.44" r="3.5" fill="none" stroke="#111" stroke-width="1.3"/><circle cx="426.1" cy="630.18" r="3.5" fill="none" stroke="#111" stroke-width="1.3"/><circle cx="451.1" cy="638.85" r="3.5" fill="none" stroke="#111" stroke-width="1.3"/><circle cx="476.1" cy="645.15" r="3.5" fill="none" stroke="#111" stroke-width="1.3"/><circle cx="501.1" cy="641.8" r="3.5" fill="none" stroke="#111" stroke-width="1.3"/><path d="M313.6 589.84L317.7 597.53H309.5Z" fill="#111"/><path d="M351.1 587.67L355.2 595.37H347Z" fill="#111"/><path d="M376.1 607.76L380.2 615.46H372Z" fill="#111"/><path d="M401.1 607.37L405.2 615.07H397Z" fill="#111"/><path d="M426.1 614.26L430.2 621.96H422Z" fill="#111"/><path d="M451.1 605.6L455.2 613.29H447Z" fill="#111"/><path d="M476.1 596.14L480.2 603.84H472Z" fill="#111"/><path d="M501.1 600.87L505.2 608.57H497Z" fill="#111"/><circle cx="313.6" cy="651.46" r="4.0" fill="#111"/><circle cx="351.1" cy="641.8" r="4.0" fill="#111"/><circle cx="376.1" cy="643.97" r="4.0" fill="#111"/><circle cx="401.1" cy="624.27" r="4.0" fill="#111"/><circle cx="426.1" cy="619.15" r="4.0" fill="#111"/><circle cx="451.1" cy="613.83" r="4.0" fill="#111"/><circle cx="476.1" cy="610.68" r="4.0" fill="#111"/><circle cx="501.1" cy="610.68" r="4.0" fill="#111"/>
<text x="272.1" y="505.6" font-family="Liberation Sans" font-weight="bold" font-size="25.6" fill="#000">F</text>
<text x="360.5" y="540.8" font-family="Liberation Serif" font-weight="bold" font-size="14" fill="#111" stroke="#111" stroke-width="0.3">20% O<tspan font-size="7.2" dy="2.0">2</tspan><tspan dy="-2.0" dx="1.3" letter-spacing="-0.13">, pH 7.25, +IL-3</tspan></text>
<text transform="translate(283.8 605.2) rotate(-90)" text-anchor="middle" font-family="Liberation Serif" font-weight="bold" font-size="14.15" fill="#111" stroke="#111" stroke-width="0.25">% isoform/total STAT3 pY 705</text>
<text x="416.3" y="720.3" text-anchor="middle" font-family="Liberation Serif" font-weight="bold" font-size="13.9" fill="#111" stroke="#111" stroke-width="0.3">time (day)</text>
<path d="M40.8 780.2H243.3V937" fill="none" stroke="#3a3a3a" stroke-width="1.2"/>
<path d="M40.8 780.2V937H243.3" fill="none" stroke="#444" stroke-width="1.3"/>
<path d="M36.8 937H44.3M36.8 917.4H44.3M36.8 897.8H44.3M36.8 878.2H44.3M36.8 858.6H44.3M36.8 839H44.3M36.8 819.4H44.3M36.8 799.8H44.3M36.8 780.2H44.3M40.8 927.2H43.8M40.8 907.6H43.8M40.8 888H43.8M40.8 868.4H43.8M40.8 848.8H43.8M40.8 829.2H43.8M40.8 809.6H43.8M40.8 790H43.8M40.8 934V940.5M66.11 934V940.5M91.42 934V940.5M116.74 934V940.5M142.05 934V940.5M167.36 934V940.5M192.68 934V940.5M217.99 934V940.5M243.3 934V940.5M53.46 934.5V937M78.77 934.5V937M104.08 934.5V937M129.39 934.5V937M154.71 934.5V937M180.02 934.5V937M205.33 934.5V937M230.64 934.5V937" stroke="#777" stroke-width="0.9" fill="none"/>
<g font-family="Liberation Serif" font-size="11.3" fill="#111" stroke="#111" stroke-width="0.15"><text x="31.8" y="939.2" text-anchor="end">0</text><text x="31.8" y="919.6" text-anchor="end">10</text><text x="31.8" y="900" text-anchor="end">20</text><text x="31.8" y="880.4" text-anchor="end">30</text><text x="31.8" y="860.8" text-anchor="end">40</text><text x="31.8" y="841.2" text-anchor="end">50</text><text x="31.8" y="821.6" text-anchor="end">60</text><text x="31.8" y="802" text-anchor="end">70</text><text x="31.8" y="782.4" text-anchor="end">80</text><text x="40.8" y="956.7" text-anchor="middle">0</text><text x="66.11" y="956.7" text-anchor="middle">2</text><text x="91.42" y="956.7" text-anchor="middle">4</text><text x="116.74" y="956.7" text-anchor="middle">6</text><text x="142.05" y="956.7" text-anchor="middle">8</text><text x="167.36" y="956.7" text-anchor="middle">10</text><text x="192.68" y="956.7" text-anchor="middle">12</text><text x="217.99" y="956.7" text-anchor="middle">14</text><text x="243.3" y="956.7" text-anchor="middle">16</text></g>
<path d="M104.08 870.54V842.91M100.58 870.54H107.58M100.58 842.91H107.58M104.08 882.7V848M100.58 882.7H107.58M100.58 848H107.58M129.39 893.28V817.43M125.89 893.28H132.89M125.89 817.43H132.89M129.39 891.91V839.38M125.89 891.91H132.89M125.89 839.38H132.89M129.39 913.27V884.66M125.89 913.27H132.89M125.89 884.66H132.89M154.71 879.95V851.73M151.21 879.95H158.21M151.21 851.73H158.21M154.71 891.91V862.12M151.21 891.91H158.21M151.21 862.12H158.21M154.71 876.23V873.48M151.21 876.23H158.21M151.21 873.48H158.21M104.08 910.53V905.43M100.58 910.53H107.58M100.58 905.43H107.58M180.02 898.18V887.4M176.52 898.18H183.52M176.52 887.4H183.52M180.02 933.46V915.82M176.52 933.46H183.52M176.52 915.82H183.52M104.08 920.72V915.82M100.58 920.72H107.58M100.58 915.82H107.58M154.71 926.99V923.07M151.21 926.99H158.21M151.21 923.07H158.21M129.39 930.52V925.62M125.89 930.52H132.89M125.89 925.62H132.89" stroke="#111" stroke-width="1.3" fill="none"/>
<polyline points="40.8,920.52 78.77,920.52 104.08,918.17 129.39,928.17 154.71,925.23 180.02,924.05 205.33,930.52 230.64,930.52" fill="none" stroke="#1a1a1a" stroke-width="1.45" stroke-dasharray="2.5 4.6"/>
<polyline points="40.8,878.19 78.77,887.79 104.08,865.25 129.39,855.45 154.71,868.78 180.02,892.69 205.33,890.93 230.64,872.9" fill="none" stroke="#1a1a1a" stroke-width="1.45" stroke-dasharray="2.5 4.6"/>
<polyline points="40.8,838.79 78.77,835.66 104.08,857.8 129.39,866.23 154.71,869.37 180.02,854.08 205.33,847.61 230.64,843.5" fill="none" stroke="#111" stroke-width="1.5"/>
<polyline points="40.8,911.51 78.77,905.04 104.08,907.98 129.39,898.96 154.71,886.22 180.02,878.19 205.33,880.34 230.64,903.08" fill="none" stroke="#111" stroke-width="1.5"/>
<path d="M40.8 917.82L44.1 923.62H37.5Z" fill="none" stroke="#111" stroke-width="1.6"/><path d="M78.77 917.82L82.07 923.62H75.47Z" fill="none" stroke="#111" stroke-width="1.6"/><path d="M104.08 915.47L107.38 921.27H100.78Z" fill="none" stroke="#111" stroke-width="1.6"/><path d="M129.39 925.47L132.69 931.27H126.09Z" fill="none" stroke="#111" stroke-width="1.6"/><path d="M154.71 922.53L158.01 928.33H151.41Z" fill="none" stroke="#111" stroke-width="1.6"/><path d="M180.02 921.35L183.32 927.15H176.72Z" fill="none" stroke="#111" stroke-width="1.6"/><path d="M205.33 927.82L208.63 933.62H202.03Z" fill="none" stroke="#111" stroke-width="1.6"/><path d="M230.64 927.82L233.94 933.62H227.34Z" fill="none" stroke="#111" stroke-width="1.6"/><circle cx="40.8" cy="878.19" r="3.5" fill="none" stroke="#111" stroke-width="1.3"/><circle cx="78.77" cy="887.79" r="3.5" fill="none" stroke="#111" stroke-width="1.3"/><circle cx="104.08" cy="865.25" r="3.5" fill="none" stroke="#111" stroke-width="1.3"/><circle cx="129.39" cy="855.45" r="3.5" fill="none" stroke="#111" stroke-width="1.3"/><circle cx="154.71" cy="868.78" r="3.5" fill="none" stroke="#111" stroke-width="1.3"/><circle cx="180.02" cy="892.69" r="3.5" fill="none" stroke="#111" stroke-width="1.3"/><circle cx="205.33" cy="890.93" r="3.5" fill="none" stroke="#111" stroke-width="1.3"/><circle cx="230.64" cy="872.9" r="3.5" fill="none" stroke="#111" stroke-width="1.3"/><path d="M40.8 834.89L44.9 842.59H36.7Z" fill="#111"/><path d="M78.77 831.76L82.87 839.46H74.67Z" fill="#111"/><path d="M104.08 853.9L108.18 861.6H99.98Z" fill="#111"/><path d="M129.39 862.33L133.49 870.03H125.29Z" fill="#111"/><path d="M154.71 865.47L158.81 873.17H150.61Z" fill="#111"/><path d="M180.02 850.18L184.12 857.88H175.92Z" fill="#111"/><path d="M205.33 843.71L209.43 851.41H201.23Z" fill="#111"/><path d="M230.64 839.6L234.74 847.3H226.54Z" fill="#111"/><circle cx="40.8" cy="911.51" r="4.0" fill="#111"/><circle cx="78.77" cy="905.04" r="4.0" fill="#111"/><circle cx="104.08" cy="907.98" r="4.0" fill="#111"/><circle cx="129.39" cy="898.96" r="4.0" fill="#111"/><circle cx="154.71" cy="886.22" r="4.0" fill="#111"/><circle cx="180.02" cy="878.19" r="4.0" fill="#111"/><circle cx="205.33" cy="880.34" r="4.0" fill="#111"/><circle cx="230.64" cy="903.08" r="4.0" fill="#111"/>
<text x="-0.9" y="756" font-family="Liberation Sans" font-weight="bold" font-size="25.6" fill="#000">G</text>
<text x="106.5" y="795.2" font-family="Liberation Serif" font-weight="bold" font-size="14" fill="#111" stroke="#111" stroke-width="0.3">5% O<tspan font-size="7.2" dy="2.0">2</tspan><tspan dy="-2.0" dx="1.3" letter-spacing="-0.13">, pH 7.4, +IL-3</tspan></text>
<text transform="translate(10.5 862) rotate(-90)" text-anchor="middle" font-family="Liberation Serif" font-weight="bold" font-size="14.15" fill="#111" stroke="#111" stroke-width="0.25">% isoform/total STAT3 pY 705</text>
<text x="143.1" y="978.8" text-anchor="middle" font-family="Liberation Serif" font-weight="bold" font-size="13.9" fill="#111" stroke="#111" stroke-width="0.3">time (day)</text>
<path d="M313.8 778H514V937" fill="none" stroke="#3a3a3a" stroke-width="1.2"/>
<path d="M313.8 778V937H514" fill="none" stroke="#444" stroke-width="1.3"/>
<path d="M309.8 937H317.3M309.8 917.12H317.3M309.8 897.25H317.3M309.8 877.38H317.3M309.8 857.5H317.3M309.8 837.62H317.3M309.8 817.75H317.3M309.8 797.88H317.3M309.8 778H317.3M313.8 927.06H316.8M313.8 907.19H316.8M313.8 887.31H316.8M313.8 867.44H316.8M313.8 847.56H316.8M313.8 827.69H316.8M313.8 807.81H316.8M313.8 787.94H316.8M313.8 934V940.5M338.82 934V940.5M363.85 934V940.5M388.88 934V940.5M413.9 934V940.5M438.93 934V940.5M463.95 934V940.5M488.98 934V940.5M514 934V940.5M326.31 934.5V937M351.34 934.5V937M376.36 934.5V937M401.39 934.5V937M426.41 934.5V937M451.44 934.5V937M476.46 934.5V937M501.49 934.5V937" stroke="#777" stroke-width="0.9" fill="none"/>
<g font-family="Liberation Serif" font-size="11.3" fill="#111" stroke="#111" stroke-width="0.15"><text x="304.8" y="939.2" text-anchor="end">0</text><text x="304.8" y="919.33" text-anchor="end">10</text><text x="304.8" y="899.45" text-anchor="end">20</text><text x="304.8" y="879.58" text-anchor="end">30</text><text x="304.8" y="859.7" text-anchor="end">40</text><text x="304.8" y="839.83" text-anchor="end">50</text><text x="304.8" y="819.95" text-anchor="end">60</text><text x="304.8" y="800.08" text-anchor="end">70</text><text x="304.8" y="780.2" text-anchor="end">80</text><text x="313.8" y="956.8" text-anchor="middle">0</text><text x="338.82" y="956.8" text-anchor="middle">2</text><text x="363.85" y="956.8" text-anchor="middle">4</text><text x="388.88" y="956.8" text-anchor="middle">6</text><text x="413.9" y="956.8" text-anchor="middle">8</text><text x="438.93" y="956.8" text-anchor="middle">10</text><text x="463.95" y="956.8" text-anchor="middle">12</text><text x="488.98" y="956.8" text-anchor="middle">14</text><text x="514" y="956.8" text-anchor="middle">16</text></g>
<path d="M376.36 868.82V855.51M372.86 868.82H379.86M372.86 855.51H379.86M376.36 876.77V860.28M372.86 876.77H379.86M372.86 860.28H379.86M401.39 897.64V854.91M397.89 897.64H404.89M397.89 854.91H404.89M401.39 876.77V864.05M397.89 876.77H404.89M397.89 864.05H404.89M426.41 868.63V860.28M422.91 868.63H429.91M422.91 860.28H429.91M426.41 899.63V886.31M422.91 899.63H429.91M422.91 886.31H429.91M451.44 908.57V895.86M447.94 908.57H454.94M447.94 895.86H454.94M376.36 927.46V923.48M372.86 927.46H379.86M372.86 923.48H379.86M401.39 925.47V920.9M397.89 925.47H404.89M397.89 920.9H404.89M451.44 924.48V919.51M447.94 924.48H454.94M447.94 919.51H454.94M376.36 885.72V880.15M372.86 885.72H379.86M372.86 880.15H379.86" stroke="#111" stroke-width="1.3" fill="none"/>
<polyline points="313.8,925.87 351.34,924.48 376.36,925.67 401.39,923.28 426.41,918.51 451.44,922.09 476.46,928.05 501.49,930.64" fill="none" stroke="#1a1a1a" stroke-width="1.45" stroke-dasharray="2.5 4.6"/>
<polyline points="313.8,865.25 351.34,891.48 376.36,867.83 401.39,880.95 426.41,893.27 451.44,902.22 476.46,899.03 501.49,893.87" fill="none" stroke="#1a1a1a" stroke-width="1.45" stroke-dasharray="2.5 4.6"/>
<polyline points="313.8,858.29 351.34,833.84 376.36,868.43 401.39,869.82 426.41,866.24 451.44,850.74 476.46,842.39 501.49,838.22" fill="none" stroke="#111" stroke-width="1.5"/>
<polyline points="313.8,896.25 351.34,896.25 376.36,883.13 401.39,871.61 426.41,868.63 451.44,872 476.46,877.37 501.49,884.73" fill="none" stroke="#111" stroke-width="1.5"/>
<path d="M313.8 923.17L317.1 928.97H310.5Z" fill="none" stroke="#111" stroke-width="1.6"/><path d="M351.34 921.77L354.64 927.58H348.04Z" fill="none" stroke="#111" stroke-width="1.6"/><path d="M376.36 922.97L379.66 928.77H373.06Z" fill="none" stroke="#111" stroke-width="1.6"/><path d="M401.39 920.58L404.69 926.38H398.09Z" fill="none" stroke="#111" stroke-width="1.6"/><path d="M426.41 915.81L429.71 921.61H423.11Z" fill="none" stroke="#111" stroke-width="1.6"/><path d="M451.44 919.39L454.74 925.19H448.14Z" fill="none" stroke="#111" stroke-width="1.6"/><path d="M476.46 925.35L479.76 931.15H473.16Z" fill="none" stroke="#111" stroke-width="1.6"/><path d="M501.49 927.94L504.79 933.74H498.19Z" fill="none" stroke="#111" stroke-width="1.6"/><circle cx="313.8" cy="865.25" r="3.5" fill="none" stroke="#111" stroke-width="1.3"/><circle cx="351.34" cy="891.48" r="3.5" fill="none" stroke="#111" stroke-width="1.3"/><circle cx="376.36" cy="867.83" r="3.5" fill="none" stroke="#111" stroke-width="1.3"/><circle cx="401.39" cy="880.95" r="3.5" fill="none" stroke="#111" stroke-width="1.3"/><circle cx="426.41" cy="893.27" r="3.5" fill="none" stroke="#111" stroke-width="1.3"/><circle cx="451.44" cy="902.22" r="3.5" fill="none" stroke="#111" stroke-width="1.3"/><circle cx="476.46" cy="899.03" r="3.5" fill="none" stroke="#111" stroke-width="1.3"/><circle cx="501.49" cy="893.87" r="3.5" fill="none" stroke="#111" stroke-width="1.3"/><path d="M313.8 854.39L317.9 862.09H309.7Z" fill="#111"/><path d="M351.34 829.94L355.44 837.64H347.24Z" fill="#111"/><path d="M376.36 864.53L380.46 872.23H372.26Z" fill="#111"/><path d="M401.39 865.92L405.49 873.62H397.29Z" fill="#111"/><path d="M426.41 862.34L430.51 870.04H422.31Z" fill="#111"/><path d="M451.44 846.84L455.54 854.54H447.34Z" fill="#111"/><path d="M476.46 838.49L480.56 846.19H472.36Z" fill="#111"/><path d="M501.49 834.32L505.59 842.02H497.39Z" fill="#111"/><circle cx="313.8" cy="896.25" r="4.0" fill="#111"/><circle cx="351.34" cy="896.25" r="4.0" fill="#111"/><circle cx="376.36" cy="883.13" r="4.0" fill="#111"/><circle cx="401.39" cy="871.61" r="4.0" fill="#111"/><circle cx="426.41" cy="868.63" r="4.0" fill="#111"/><circle cx="451.44" cy="872" r="4.0" fill="#111"/><circle cx="476.46" cy="877.37" r="4.0" fill="#111"/><circle cx="501.49" cy="884.73" r="4.0" fill="#111"/>
<text x="272.1" y="755.8" font-family="Liberation Sans" font-weight="bold" font-size="25.6" fill="#000">H</text>
<text x="370" y="794.4" font-family="Liberation Serif" font-weight="bold" font-size="14" fill="#111" stroke="#111" stroke-width="0.3">5% O<tspan font-size="7.2" dy="2.0">2</tspan><tspan dy="-2.0" dx="1.3" letter-spacing="-0.13">, pH 7.25, -IL-3</tspan></text>
<text transform="translate(283.8 861.3) rotate(-90)" text-anchor="middle" font-family="Liberation Serif" font-weight="bold" font-size="14.15" fill="#111" stroke="#111" stroke-width="0.25">% isoform/total STAT3 pY 705</text>
<text x="413.5" y="978.8" text-anchor="middle" font-family="Liberation Serif" font-weight="bold" font-size="13.9" fill="#111" stroke="#111" stroke-width="0.3">time (day)</text>
<path d="M108.6 929.4H112" stroke="#111" stroke-width="1.6"/>
</g>
</svg>
</body></html>
